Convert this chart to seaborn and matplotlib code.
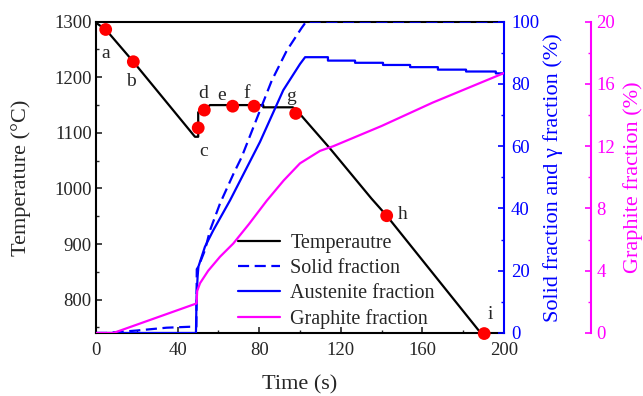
import matplotlib
matplotlib.use("Agg")
import matplotlib.pyplot as plt
import seaborn as sns
import numpy as np
from matplotlib.ticker import MultipleLocator

# ---------------- data ----------------
temp_time = [0, 4.75, 18.3, 48.5, 50.1, 50.1, 52.5, 55.9, 82.0, 82.0, 96.5, 99.0,
             114.7, 135.0, 142.5, 188.6]
temp_val = [1298, 1286, 1228, 1093, 1093, 1137, 1140, 1150, 1150, 1146, 1146, 1138,
            1072, 982, 951, 740]

solid_time = [0, 5, 20, 34.6, 46, 49.2, 49.4, 50.2, 53.4, 55.9, 60.8, 67.3, 71.4,
              77.1, 86.1, 93.5, 100.8, 103, 200]
solid_val = [0, 0, 0.8, 1.7, 2.0, 2.0, 20.5, 21.3, 26.6, 33, 41.6, 51, 56.5,
             66, 81, 90.7, 98, 100, 100]

aust_time = [0, 49.0, 49.3, 49.8, 50.2, 53.4, 57.5, 65.7, 80.4, 91.8, 100, 102.5,
             113.7, 113.7, 127, 127, 140.7, 140.7, 154, 154, 167.6, 167.6,
             181.4, 181.4, 196, 196, 200]
aust_val = [0, 0, 11.6, 18, 21.3, 27.7, 33, 42.6, 61.4, 78, 86.4, 88.6,
            88.6, 87.5, 87.5, 86.8, 86.8, 86.1, 86.1, 85.4, 85.4, 84.6,
            84.6, 84.0, 84.0, 83.4, 83.4]

graph_time = [0, 8.5, 49.3, 49.6, 51, 55, 60.8, 67.3, 75, 83.7, 92, 100, 109.8,
              116.3, 140, 165, 200]
graph_val = [0, 0, 1.9, 2.7, 3.2, 4.0, 4.9, 5.75, 7.0, 8.5, 9.8, 10.9, 11.7,
             12.0, 13.3, 14.8, 16.7]

pt_labels = ["a", "b", "c", "d", "e", "f", "g", "h", "i"]
pt_time = [4.75, 18.3, 50.1, 53.1, 67.0, 77.5, 97.9, 142.5, 190.3]
pt_temp = [1286, 1228, 1109, 1141, 1148, 1148, 1135, 951, 739]
lab_time = [4.75, 17.0, 52.6, 52.6, 61.6, 73.9, 95.6, 150.3, 193.1]
lab_temp = [1243, 1193, 1066, 1170, 1168, 1171, 1165, 954, 774]

legend_labels = ["Temperautre", "Solid fraction", "Austenite fraction", "Graphite fraction"]

# ---------------- style ----------------
sns.set_style("ticks")
plt.rcParams["font.family"] = ["Liberation Serif", "DejaVu Serif"]

BLUE = "#0000FF"
MAG = "#FF00FF"
TICK_FS = 13.5
LAB_FS = 16

fig = plt.figure(figsize=(6.43, 3.96), dpi=100)
ax = fig.add_axes([0.1493, 0.1591, 0.6345, 0.7861])
ax2 = ax.twinx()
ax3 = ax.twinx()

lw = 1.6
sns.lineplot(x=temp_time, y=temp_val, ax=ax, color="black", lw=lw,
             sort=False, estimator=None, legend=False)
temp_line = ax.lines[-1]
sns.scatterplot(x=pt_time, y=pt_temp, ax=ax, color="red", s=85,
                edgecolor="none", zorder=5, legend=False, clip_on=False)
for lab, tx, ty in zip(pt_labels, lab_time, lab_temp):
    ax.text(tx, ty, lab, ha="center", va="center", fontsize=14)

sns.lineplot(x=solid_time, y=solid_val, ax=ax2, color=BLUE, lw=lw,
             sort=False, estimator=None, legend=False)
solid_line = ax2.lines[-1]
solid_line.set_dashes([5, 2.5])
sns.lineplot(x=aust_time, y=aust_val, ax=ax2, color=BLUE, lw=lw,
             sort=False, estimator=None, legend=False)
aust_line = ax2.lines[-1]
sns.lineplot(x=graph_time, y=graph_val, ax=ax3, color=MAG, lw=lw,
             sort=False, estimator=None, legend=False)
graph_line = ax3.lines[-1]

# axes limits & ticks
ax.set_xlim(0, 200)
ax.set_ylim(740, 1300)
ax2.set_ylim(0, 100)
ax3.set_ylim(0, 20)

ax.xaxis.set_major_locator(MultipleLocator(40))
ax.xaxis.set_minor_locator(MultipleLocator(20))
ax.yaxis.set_minor_locator(MultipleLocator(50))
ax.set_yticks([800, 900, 1000, 1100, 1200, 1300])
ax2.yaxis.set_major_locator(MultipleLocator(20))
ax2.yaxis.set_minor_locator(MultipleLocator(10))
ax3.yaxis.set_major_locator(MultipleLocator(4))
ax3.yaxis.set_minor_locator(MultipleLocator(2))

ax.tick_params(axis="both", which="major", direction="in", length=4, width=1.2,
               labelsize=TICK_FS, pad=3)
ax.tick_params(axis="both", which="minor", direction="in", length=2.5, width=1.0)
ax.tick_params(axis="x", which="major", pad=6.5)
ax2.tick_params(axis="y", which="major", direction="in", length=4, width=1.2,
                labelsize=TICK_FS, colors=BLUE, pad=5)
ax2.tick_params(axis="y", which="minor", direction="in", length=2.5, width=1.0,
                colors=BLUE)
ax3.tick_params(axis="y", which="major", direction="in", length=4, width=1.2,
                labelsize=TICK_FS, colors=MAG, pad=4)
ax3.tick_params(axis="y", which="minor", direction="in", length=2.5, width=1.0,
                colors=MAG)

for s in ["left", "bottom", "top"]:
    ax.spines[s].set_linewidth(1.5)
    ax.spines[s].set_color("black")
ax.spines["right"].set_visible(False)
for s in ["left", "bottom", "top"]:
    ax2.spines[s].set_visible(False)
    ax3.spines[s].set_visible(False)
ax2.spines["right"].set_color(BLUE)
ax2.spines["right"].set_linewidth(1.5)
ax3.spines["right"].set_color(MAG)
ax3.spines["right"].set_linewidth(1.5)
ax3.spines["right"].set_position(("axes", 1.213))

ax.set_xlabel("Time (s)", fontsize=LAB_FS, labelpad=12)
ax.set_ylabel("Temperature (°C)", fontsize=LAB_FS, labelpad=17)
ax2.set_ylabel("Solid fraction and \u03b3 fraction (%)", fontsize=LAB_FS, color=BLUE,
               labelpad=3)
ax3.set_ylabel("Graphite fraction (%)", fontsize=LAB_FS, color=MAG, labelpad=6)

leg = ax.legend([temp_line, solid_line, aust_line, graph_line], legend_labels,
                loc="upper left", bbox_to_anchor=(0.328, 0.345), frameon=False,
                fontsize=14.5, handlelength=2.1, handletextpad=0.5,
                labelspacing=0.3, borderaxespad=0)
leg.set_zorder(10)

fig.savefig("out.png", dpi=100)
